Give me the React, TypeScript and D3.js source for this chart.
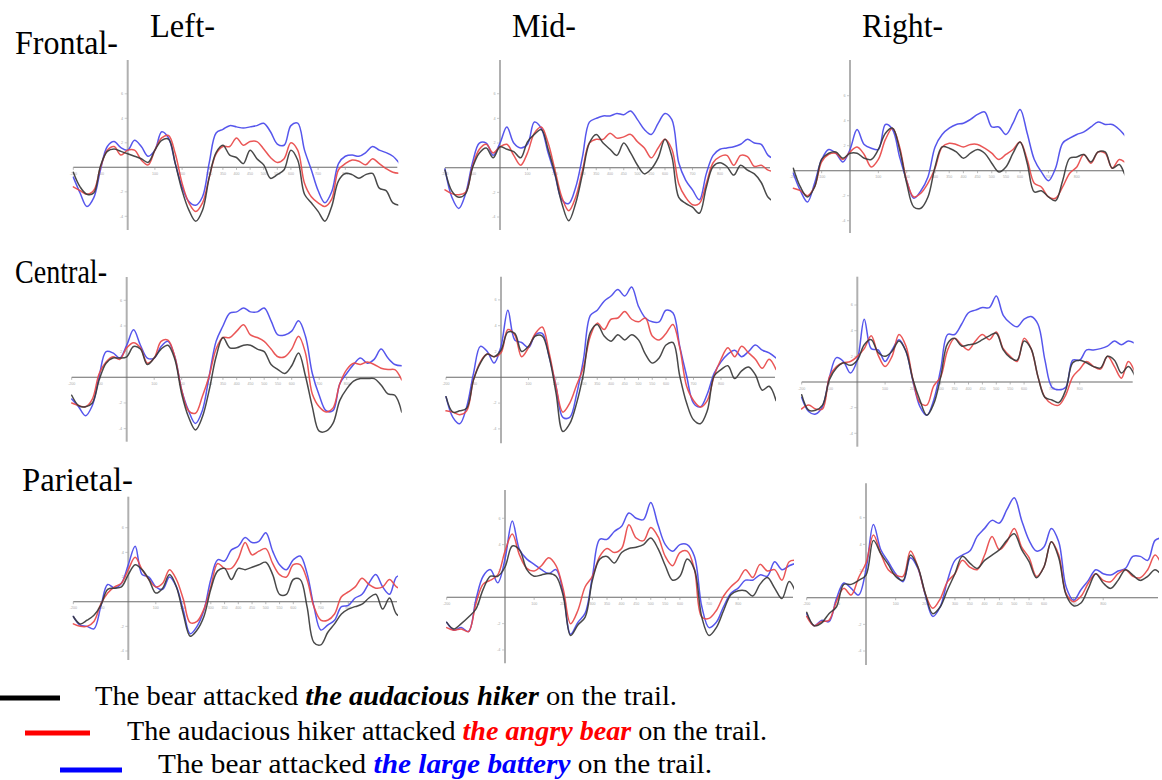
import React from "react";
import * as d3 from "d3";

// time axis (ms), one sample every 25 ms
const times: number[] = d3.range(-200, 1001, 25);

const columnLabels = ["Left-", "Mid-", "Right-"];
const rowLabels = ["Frontal-", "Central-", "Parietal-"];
const xTickValues = [-200, -100, 100, 200, 300, 350, 400, 450, 500, 550, 600, 700, 800];
const yTickValues = [6, 4, 2, -2, -4];

const legendSentences = [
  ["The bear attacked ", "the audacious hiker", " on the trail."],
  ["The audacious hiker attacked ", "the angry bear", " on the trail."],
  ["The bear attacked ", "the large battery", " on the trail."],
];

// ---------------- Frontal ----------------
const leftFrontalHiker = [-0.4, -1.6, -2.2, -2.1, 0.1, 1.3, 1.5, 1.3, 1.1, 0.9, 0.7, 0.4, 1.4, 2.2, 2.3, 0.3, -1.9, -3.5, -4.4, -3.5, -0.8, 1.2, 1.8, 1.0, 0.8, 0.3, 1.4, 0.7, 0.2, -0.9, -0.6, -0.2, 1.4, 0.6, -2.2, -2.9, -3.6, -4.4, -3.2, -1.1, -0.5, -0.6, -0.9, -0.6, -0.5, -1.7, -1.9, -2.9, -3.1];
const leftFrontalBear = [-1.6, -1.9, -2.2, -1.9, 0.0, 1.4, 1.7, 1.0, 1.4, 1.4, 0.6, 0.2, 1.4, 2.4, 2.6, 1.1, -1.3, -2.9, -3.6, -2.9, -0.8, 1.1, 1.7, 1.7, 2.4, 1.8, 2.1, 2.1, 1.5, 0.8, 0.4, 0.7, 2.0, 1.4, -1.3, -2.4, -2.9, -3.2, -2.6, -0.2, 0.3, 0.6, 0.5, 0.2, 0.7, 0.3, -0.1, -0.4, -0.5];
const leftFrontalBattery = [-0.8, -2.1, -3.2, -2.5, -0.2, 1.7, 2.1, 1.6, 1.4, 2.2, 1.7, 0.9, 1.4, 2.9, 2.4, 0.3, -1.6, -2.8, -3.1, -2.4, 0.4, 2.8, 3.1, 3.4, 3.3, 3.2, 3.3, 3.4, 3.6, 2.9, 1.9, 1.8, 3.4, 3.6, 1.4, -0.2, -1.9, -2.9, -2.0, 0.3, 0.9, 1.0, 0.9, 1.2, 1.7, 1.4, 1.2, 0.9, 0.3];

const midFrontalHiker = [-0.2, -1.9, -2.4, -2.1, 0.0, 1.2, 1.6, 0.8, 1.7, 1.5, 1.3, 0.8, 2.1, 2.7, 3.1, 1.5, -0.5, -2.9, -4.3, -2.9, -0.5, 2.0, 2.7, 2.0, 1.5, 1.0, 2.0, 1.2, 0.2, -0.5, -0.1, 0.8, 2.3, 0.9, -2.4, -2.9, -3.2, -3.7, -1.6, 0.1, 0.4, 0.1, -0.6, 0.2, -0.2, -0.5, -1.2, -2.4, -2.8];
const midFrontalBear = [-1.8, -2.1, -2.2, -2.0, 0.1, 1.5, 1.9, 1.2, 1.7, 1.9, 1.0, 0.2, 1.2, 2.8, 3.3, 2.0, -0.2, -2.4, -3.5, -2.4, -0.2, 2.0, 2.3, 2.3, 2.8, 2.4, 2.5, 2.7, 2.1, 1.6, 0.8, 1.6, 2.3, 1.5, -1.3, -2.4, -3.0, -2.9, -1.3, 0.4, 0.9, 1.0, 0.2, 1.0, 0.9, 0.1, 0.2, -0.2, -0.3];
const midFrontalBattery = [-0.1, -2.4, -3.3, -2.1, 0.4, 2.0, 2.0, 1.0, 2.0, 3.3, 2.0, 1.6, 1.9, 3.7, 3.2, 1.2, -0.6, -2.6, -2.9, -1.6, 0.9, 3.7, 4.0, 4.2, 4.2, 4.4, 4.3, 4.6, 3.9, 3.1, 2.7, 3.6, 4.4, 3.9, 0.4, -1.0, -1.8, -2.6, -0.5, 1.0, 1.5, 1.6, 1.7, 1.9, 2.3, 2.0, 1.9, 1.0, 0.7];

const rightFrontalHiker = [0.2, -1.3, -2.1, -1.3, 0.9, 1.4, 1.5, 1.0, 1.4, 1.4, 1.0, 0.9, 1.7, 3.0, 3.4, 1.7, -1.0, -2.9, -3.0, -2.1, 0.3, 1.9, 1.8, 1.5, 1.0, 1.4, 1.7, 1.4, 0.6, -0.1, 0.3, 1.4, 2.3, 0.6, -1.7, -1.6, -2.1, -2.4, -0.8, 1.0, 1.1, 1.3, 0.7, 1.5, 1.5, 0.2, 0.5, -0.5, -0.8];
const rightFrontalBear = [-1.4, -1.6, -2.0, -1.3, 0.7, 1.3, 1.4, 0.9, 1.5, 1.9, 1.3, 0.3, 0.9, 2.5, 3.4, 1.9, -0.8, -2.1, -1.8, -1.0, 0.2, 1.9, 2.2, 2.1, 1.9, 2.1, 2.1, 1.8, 1.4, 0.9, 1.3, 1.7, 2.3, 0.9, -1.0, -1.3, -2.1, -2.2, -1.3, -0.2, 0.3, 1.3, 0.6, 1.5, 1.4, 0.2, 0.9, 0.6, 0.3];
const rightFrontalBattery = [-0.2, -1.6, -2.5, -1.0, 0.9, 1.7, 1.4, 0.7, 1.7, 3.3, 2.1, 1.8, 1.7, 3.7, 3.3, 1.1, -0.8, -2.2, -1.6, -0.5, 1.9, 2.9, 3.4, 3.7, 3.8, 4.1, 4.5, 4.7, 3.5, 3.5, 2.9, 3.8, 4.9, 3.0, 0.9, -0.1, -0.8, 0.2, 2.2, 2.6, 2.9, 3.1, 3.5, 3.9, 3.7, 3.7, 3.3, 2.7, 2.3];

// ---------------- Central ----------------
const leftCentralHiker = [-1.4, -2.2, -2.3, -2.0, -0.2, 1.1, 1.5, 1.5, 1.6, 2.4, 2.2, 1.0, 1.5, 2.2, 2.5, 1.4, -1.3, -3.1, -4.1, -3.1, -1.0, 1.6, 3.1, 2.3, 2.3, 2.5, 2.5, 2.2, 2.0, 1.0, 0.6, 0.3, 0.9, 1.9, 0.1, -2.3, -4.2, -4.2, -3.6, -1.8, -0.9, -0.3, -0.1, -0.1, -0.1, -0.6, -1.3, -1.4, -2.7];
const leftCentralBear = [-2.0, -2.2, -2.3, -1.7, 0.3, 1.2, 1.6, 1.4, 2.3, 2.7, 2.3, 1.1, 1.5, 2.8, 2.9, 1.6, -1.0, -2.6, -2.8, -1.5, 0.1, 2.2, 3.1, 3.1, 3.6, 4.1, 3.3, 3.1, 2.8, 2.2, 1.6, 1.6, 2.2, 3.2, 1.9, -1.3, -2.3, -2.7, -2.4, -0.5, 0.6, 1.1, 1.0, 1.2, 1.0, 0.7, 0.6, 0.6, -0.2];
const leftCentralBattery = [-1.7, -2.3, -3.0, -2.2, 0.1, 2.0, 1.9, 1.5, 2.5, 3.7, 2.5, 1.5, 1.5, 2.4, 2.8, 1.6, -1.0, -2.6, -3.6, -2.6, 0.1, 2.8, 4.0, 5.0, 5.1, 5.4, 5.1, 5.1, 5.4, 4.4, 3.3, 3.3, 3.6, 4.4, 3.2, 0.3, -1.4, -2.6, -2.6, -0.5, 0.3, 1.0, 1.5, 1.1, 1.4, 2.2, 1.5, 1.0, 0.9];

const midCentralHiker = [-1.5, -2.7, -2.6, -2.4, -0.2, 1.1, 1.8, 1.6, 2.1, 3.5, 3.4, 2.0, 2.4, 3.2, 3.2, 1.6, -1.2, -4.2, -3.6, -2.0, 0.3, 3.5, 4.1, 3.2, 2.8, 3.3, 2.9, 3.3, 2.9, 1.8, 1.1, 1.5, 2.5, 2.7, 0.1, -2.0, -3.3, -3.6, -2.6, 0.1, 0.6, 0.9, -0.1, 0.5, 0.8, 0.2, -1.0, -0.7, -1.8];
const midCentralBear = [-2.6, -2.7, -2.9, -2.6, -0.2, 1.2, 1.8, 1.6, 1.9, 3.7, 3.3, 1.6, 2.3, 3.4, 3.9, 1.9, -0.7, -2.7, -2.0, -0.6, 0.8, 3.2, 4.2, 3.7, 4.5, 4.6, 5.1, 4.5, 4.3, 4.6, 3.2, 2.9, 3.4, 4.1, 2.3, -0.7, -1.8, -2.3, -1.8, 0.1, 1.4, 2.3, 1.6, 2.4, 1.9, 1.4, 0.7, 1.4, 0.6];
const midCentralBattery = [-1.5, -3.1, -3.6, -2.3, 0.3, 2.4, 2.0, 1.1, 2.4, 5.2, 2.9, 2.7, 2.3, 3.3, 3.4, 1.6, -0.7, -3.1, -3.1, -1.3, 1.4, 4.8, 5.2, 5.9, 6.3, 6.8, 6.3, 7.0, 5.5, 4.6, 4.3, 4.3, 5.2, 5.0, 2.4, 0.1, -2.0, -2.3, -1.3, 0.3, 1.2, 1.8, 2.1, 1.6, 2.0, 2.5, 2.1, 1.9, 1.5];

const rightCentralHiker = [-1.0, -2.2, -2.2, -1.8, 0.2, 1.1, 1.5, 1.3, 1.7, 2.9, 3.3, 2.3, 2.0, 2.4, 3.2, 2.4, 0.2, -1.4, -2.6, -1.7, 0.4, 3.0, 3.4, 2.8, 2.9, 3.0, 3.3, 3.6, 3.8, 2.5, 1.9, 1.7, 3.2, 2.6, 0.4, -1.2, -1.4, -1.6, -0.6, 1.5, 1.7, 1.5, 1.2, 1.1, 2.0, 1.7, 0.7, 1.2, 0.4];
const rightCentralBear = [-2.1, -1.8, -2.1, -2.1, 0.4, 1.2, 1.5, 1.6, 2.0, 2.6, 3.6, 2.1, 1.2, 2.0, 3.7, 2.8, 0.2, -1.6, -1.8, -0.3, 0.4, 2.5, 3.4, 2.9, 2.5, 3.2, 3.7, 3.3, 3.9, 2.6, 2.0, 1.6, 3.4, 2.6, 0.4, -1.2, -1.7, -1.8, -1.0, 0.4, 1.0, 1.6, 1.2, 1.0, 2.0, 1.2, 0.3, 1.6, 0.7];
const rightCentralBattery = [-1.2, -2.3, -2.5, -1.9, 0.4, 1.9, 1.6, 0.7, 1.7, 4.9, 2.6, 2.5, 1.6, 2.5, 3.3, 2.4, 0.1, -1.9, -2.6, -1.4, 1.0, 3.7, 3.7, 4.5, 5.4, 5.6, 5.8, 5.8, 6.7, 5.2, 4.6, 4.3, 4.9, 5.1, 4.5, 1.7, -0.4, -0.6, -0.4, 1.7, 1.7, 2.5, 2.5, 2.6, 2.8, 3.2, 2.9, 3.2, 3.0];

// ---------------- Parietal ----------------
const leftParietalHiker = [-1.2, -1.8, -1.5, -1.1, -0.3, 1.0, 1.1, 1.2, 2.2, 3.0, 2.6, 1.8, 0.7, 1.1, 2.2, 1.2, -1.0, -2.8, -2.3, -1.2, 1.0, 2.5, 2.7, 1.8, 2.7, 2.6, 2.8, 3.0, 3.2, 2.2, 0.6, 0.6, 1.8, 1.8, -0.4, -3.3, -3.5, -2.5, -1.8, -1.0, -0.6, -0.4, -0.2, 0.3, 0.6, -0.6, 0.3, -1.0, -1.3];
const leftParietalBear = [-1.8, -2.0, -2.0, -1.6, -0.2, 0.7, 1.2, 1.5, 2.6, 3.6, 2.6, 1.8, 1.2, 1.5, 2.6, 1.8, 0.2, -1.7, -1.6, -0.6, 1.2, 3.1, 2.7, 2.7, 3.5, 4.8, 3.8, 4.1, 4.3, 3.1, 2.2, 2.0, 3.0, 3.0, 1.8, -0.4, -1.5, -1.5, -1.0, 0.4, 0.8, 1.2, 1.9, 1.4, 1.1, 1.2, 1.8, 1.2, 1.0];
const leftParietalBattery = [-1.2, -1.9, -2.0, -2.2, -0.4, 1.4, 1.1, 1.5, 3.0, 4.5, 2.2, 2.0, 1.2, 1.0, 2.0, 1.2, -0.7, -2.6, -2.0, -0.7, 1.8, 3.4, 3.3, 4.2, 4.5, 5.2, 4.8, 4.9, 5.6, 4.1, 3.0, 2.6, 3.4, 3.7, 2.3, -0.4, -2.3, -1.9, -1.5, -0.4, -0.3, 0.3, 0.6, 1.5, 2.2, 1.2, 0.6, 2.0, 2.2];

const midParietalHiker = [-1.9, -2.4, -2.0, -1.5, -0.9, 0.6, 1.6, 1.6, 2.3, 3.9, 3.6, 2.1, 1.6, 1.7, 1.8, 1.6, 0.1, -2.9, -2.1, -1.5, 1.3, 2.9, 3.1, 2.6, 3.4, 3.7, 3.8, 4.0, 4.5, 3.7, 2.4, 1.3, 1.6, 2.9, 2.1, -1.5, -2.9, -2.3, -1.0, 0.2, 0.5, 0.5, 0.1, 1.0, 1.5, 0.7, -0.1, 1.2, 0.2];
const midParietalBear = [-2.3, -2.5, -2.4, -2.6, -0.5, 1.0, 1.3, 1.7, 3.5, 4.8, 3.2, 2.2, 2.0, 2.4, 3.0, 2.4, 0.6, -2.0, -1.0, 0.8, 1.6, 3.1, 3.7, 3.4, 3.7, 5.5, 4.5, 4.3, 5.3, 4.6, 3.1, 2.4, 3.4, 3.5, 2.1, -1.5, -1.6, -1.0, 0.1, 0.8, 1.3, 2.1, 1.5, 2.5, 2.0, 2.1, 1.3, 2.7, 2.8];
const midParietalBattery = [-1.9, -2.5, -2.3, -2.6, -0.2, 1.6, 2.1, 1.1, 2.9, 5.8, 3.6, 2.9, 2.5, 2.1, 1.8, 2.1, 0.3, -2.8, -1.9, -1.2, 1.6, 4.4, 4.4, 5.0, 5.4, 6.4, 6.0, 5.9, 7.2, 5.5, 4.0, 3.5, 4.0, 4.0, 3.1, -0.7, -2.3, -1.9, -0.7, 0.3, 0.7, 1.3, 1.3, 1.7, 1.6, 2.7, 2.1, 2.4, 2.6];

const rightParietalHiker = [-1.1, -2.1, -1.9, -1.2, -0.7, 1.0, 1.0, 1.3, 1.7, 4.3, 3.3, 2.5, 1.6, 1.3, 3.2, 2.3, 0.3, -1.2, -0.7, 0.6, 1.8, 3.1, 2.6, 2.2, 2.8, 3.2, 3.6, 4.3, 4.8, 3.6, 2.7, 1.5, 2.3, 4.2, 3.0, 0.2, -0.6, -0.4, 0.7, 1.8, 1.1, 0.7, 1.3, 2.1, 1.7, 1.3, 1.6, 2.1, 1.6];
const rightParietalBear = [-1.4, -2.1, -1.8, -1.7, -0.3, 0.7, 0.2, 1.5, 2.6, 4.7, 3.3, 2.1, 1.7, 1.6, 3.5, 2.3, 0.3, -0.8, -0.1, 1.2, 1.8, 2.8, 2.3, 2.1, 3.2, 4.6, 3.6, 4.2, 5.2, 3.8, 3.0, 1.6, 2.3, 4.2, 3.2, 0.3, -0.3, 0.1, 1.1, 1.8, 1.3, 1.2, 1.8, 2.1, 1.6, 1.5, 2.1, 3.2, 2.3];
const rightParietalBattery = [-1.2, -2.1, -1.7, -1.8, -0.1, 1.1, 0.7, 0.2, 2.1, 5.5, 3.6, 2.7, 1.8, 1.2, 3.0, 2.2, 0.2, -1.4, -0.7, 1.3, 2.8, 3.2, 3.5, 4.6, 5.2, 5.8, 5.6, 6.6, 7.5, 5.8, 4.3, 3.5, 3.8, 5.2, 4.2, 0.8, -0.2, 0.6, 1.3, 2.1, 1.8, 1.7, 2.0, 2.2, 3.1, 3.1, 2.8, 4.3, 4.5];

// ---------------- layout ----------------
const seriesColors = ["#3a3a3a", "#e84848", "#4848ea"];
const legendColors = ["#000000", "#ff0000", "#0000ff"];

type PanelCfg = {
  id: string;
  series: number[][];
  xStart: number;
  xZero: number;
  xEnd: number;
  zero: number;
  k: number;
  yTop: number;
  yBottom: number;
};

const panels: PanelCfg[] = [
  { id: "lf", series: [leftFrontalHiker, leftFrontalBear, leftFrontalBattery], xStart: 73.3, xZero: 127.7, xEnd: 397.3, zero: 167.3, k: 12.25, yTop: 60, yBottom: 230 },
  { id: "mf", series: [midFrontalHiker, midFrontalBear, midFrontalBattery], xStart: 445, xZero: 500, xEnd: 770, zero: 167.7, k: 12.33, yTop: 60, yBottom: 230 },
  { id: "rf", series: [rightFrontalHiker, rightFrontalBear, rightFrontalBattery], xStart: 793.3, xZero: 850, xEnd: 1123.3, zero: 170.7, k: 12.5, yTop: 60, yBottom: 233 },
  { id: "lc", series: [leftCentralHiker, leftCentralBear, leftCentralBattery], xStart: 71.7, xZero: 126.7, xEnd: 400.7, zero: 377.3, k: 12.83, yTop: 277, yBottom: 441.7 },
  { id: "mc", series: [midCentralHiker, midCentralBear, midCentralBattery], xStart: 446, xZero: 501, xEnd: 775, zero: 377.3, k: 12.9, yTop: 276.7, yBottom: 443.3 },
  { id: "rc", series: [rightCentralHiker, rightCentralBear, rightCentralBattery], xStart: 801.7, xZero: 857.3, xEnd: 1132.7, zero: 382, k: 12.83, yTop: 276.7, yBottom: 446.7 },
  { id: "lp", series: [leftParietalHiker, leftParietalBear, leftParietalBattery], xStart: 73.3, xZero: 128.3, xEnd: 397, zero: 601.7, k: 12.33, yTop: 496.7, yBottom: 660 },
  { id: "mp", series: [midParietalHiker, midParietalBear, midParietalBattery], xStart: 446.7, xZero: 505, xEnd: 793, zero: 597.3, k: 13.17, yTop: 490, yBottom: 663.3 },
  { id: "rp", series: [rightParietalHiker, rightParietalBear, rightParietalBattery], xStart: 806.7, xZero: 866, xEnd: 1158, zero: 597.7, k: 13.33, yTop: 483.3, yBottom: 665 },
];

const colLabelPos = [
  { x: 150, y: 37, w: 65 },
  { x: 512, y: 37, w: 64 },
  { x: 862, y: 37, w: 81 },
];
const rowLabelPos = [
  { x: 15, y: 54, w: 103 },
  { x: 15, y: 283, w: 92 },
  { x: 22, y: 491, w: 111 },
];
const legendPos = [
  { lx1: 0, lx2: 60, ly: 698, tx: 95, ty: 705, tw: 582 },
  { lx1: 25, lx2: 90, ly: 733, tx: 127, ty: 740, tw: 640 },
  { lx1: 60, lx2: 122, ly: 770, tx: 158, ty: 773, tw: 554 },
];

const serif = "'Liberation Serif', 'Times New Roman', Times, serif";

function Panel({ cfg }: { cfg: PanelCfg }) {
  const x = d3
    .scaleLinear()
    .domain([-200, 1000])
    .range([cfg.xStart, cfg.xStart + 6 * (cfg.xZero - cfg.xStart)]);
  const y = d3.scaleLinear().domain([0, 1]).range([cfg.zero, cfg.zero - cfg.k]);
  const line = d3
    .line<number>()
    .x((_, i) => x(times[i]))
    .y((d) => y(d))
    .curve(d3.curveCatmullRom.alpha(0.5));
  const clipId = `clip-${cfg.id}`;
  const order = [2, 1, 0];
  return (
    <g>
      <defs>
        <clipPath id={clipId}>
          <rect x={cfg.xStart - 1} y={0} width={cfg.xEnd - cfg.xStart + 2} height={780} />
        </clipPath>
      </defs>
      {/* y axis */}
      <line x1={x(0)} x2={x(0)} y1={cfg.yTop} y2={cfg.yBottom} stroke="#b0b0b0" strokeWidth={2} />
      {yTickValues.map((v) => (
        <g key={v}>
          <line x1={x(0) - 3} x2={x(0)} y1={y(v)} y2={y(v)} stroke="#aaa" strokeWidth={0.6} />
          <text x={x(0) - 4.5} y={y(v) + 1.3} fontSize={3.8} fill="#aaa" textAnchor="end" fontFamily="Arial, sans-serif">
            {v}
          </text>
        </g>
      ))}
      {/* x axis (zero line) */}
      <line x1={cfg.xStart} x2={cfg.xEnd} y1={y(0)} y2={y(0)} stroke="#6a6a6a" strokeWidth={1.1} />
      {xTickValues.map((t) => (
        <g key={t}>
          <line x1={x(t)} x2={x(t)} y1={y(0)} y2={y(0) + 2.5} stroke="#999" strokeWidth={0.7} />
          <text x={x(t)} y={y(0) + 7.5} fontSize={3.6} fill="#aaa" textAnchor="middle" fontFamily="Arial, sans-serif">
            {t}
          </text>
        </g>
      ))}
      <g clipPath={`url(#${clipId})`}>
        {order.map((si) => (
          <path
            key={si}
            d={line(cfg.series[si]) || ""}
            fill="none"
            stroke={seriesColors[si]}
            strokeWidth={1.5}
            strokeLinejoin="round"
            strokeLinecap="round"
            opacity={0.92}
          />
        ))}
      </g>
    </g>
  );
}

export default function App() {
  return (
    <svg
      width={1162}
      height={780}
      viewBox="0 0 1162 780"
      style={{ position: "absolute", left: 0, top: 0, background: "#fff" }}
    >
      <rect x={0} y={0} width={1162} height={780} fill="#fff" />
      {panels.map((p) => (
        <Panel key={p.id} cfg={p} />
      ))}
      {columnLabels.map((lab, i) => (
        <text
          key={lab}
          x={colLabelPos[i].x}
          y={colLabelPos[i].y}
          fontSize={34}
          fontFamily={serif}
          textLength={colLabelPos[i].w}
          lengthAdjust="spacingAndGlyphs"
          fill="#000"
        >
          {lab}
        </text>
      ))}
      {rowLabels.map((lab, i) => (
        <text
          key={lab}
          x={rowLabelPos[i].x}
          y={rowLabelPos[i].y}
          fontSize={34}
          fontFamily={serif}
          textLength={rowLabelPos[i].w}
          lengthAdjust="spacingAndGlyphs"
          fill="#000"
        >
          {lab}
        </text>
      ))}
      {legendSentences.map((parts, i) => {
        const p = legendPos[i];
        return (
          <g key={i}>
            <line x1={p.lx1} x2={p.lx2} y1={p.ly} y2={p.ly} stroke={legendColors[i]} strokeWidth={5} />
            <text
              x={p.tx}
              y={p.ty}
              fontSize={27}
              fontFamily={serif}
              textLength={p.tw}
              lengthAdjust="spacingAndGlyphs"
              fill="#000"
            >
              <tspan>{parts[0]}</tspan>
              <tspan fontWeight="bold" fontStyle="italic" fill={legendColors[i]}>
                {parts[1]}
              </tspan>
              <tspan>{parts[2]}</tspan>
            </text>
          </g>
        );
      })}
    </svg>
  );
}
